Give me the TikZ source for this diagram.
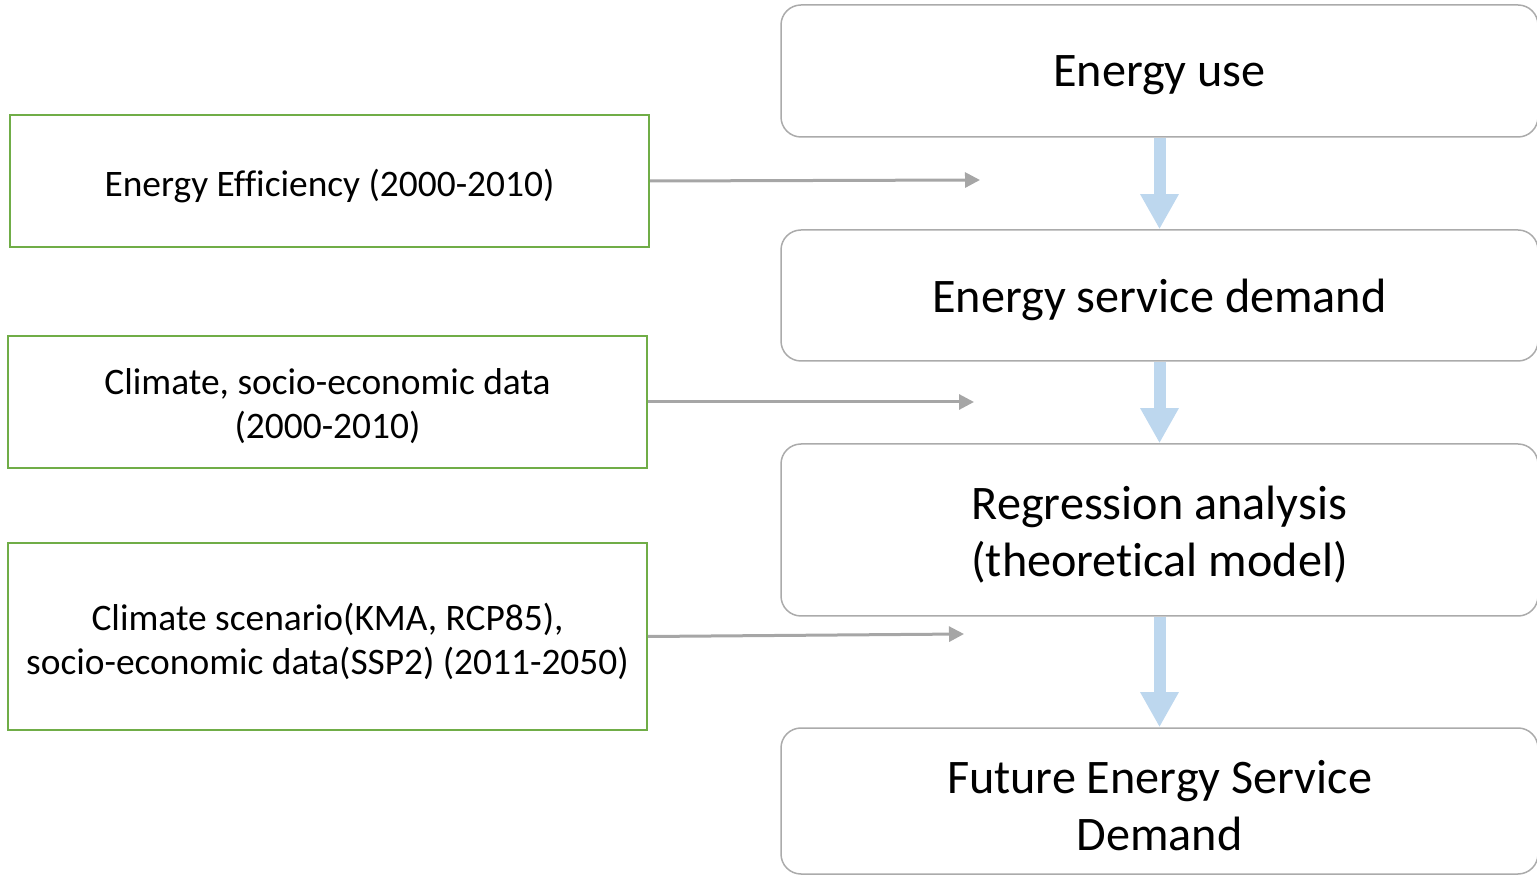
\documentclass[tikz,border=0pt]{standalone}
\usepackage{fontspec}
\setmainfont{Carlito}[Ligatures=NoCommon]
\usetikzlibrary{arrows.meta}
\definecolor{stagegray}{HTML}{ABABAB}
\definecolor{feedgray}{HTML}{A6A6A6}
\definecolor{inputgreen}{HTML}{70AD47}
\definecolor{flowblue}{HTML}{BDD7EE}
\newcommand\lowtext[1]{\raisebox{-2.3pt}[\height][\depth]{#1}}
\begin{document}
\begin{tikzpicture}[x=0.5pt,y=-0.5pt,
  stage/.style={draw=stagegray, line width=0.75pt, rounded corners=10pt, minimum width=378.5pt, align=center, font=\fontsize{24.1}{28.5}\selectfont, inner sep=0pt},
  input/.style={draw=inputgreen, line width=1pt, minimum width=319.5pt, align=center, font=\fontsize{18.7}{22}\selectfont, inner sep=0pt},
  feed/.style={draw=feedgray, line width=1.5pt, -{Triangle[width=7.5pt,length=7.5pt]}},
  flow/.style={draw=flowblue, line width=6pt, -{Triangle[width=18pt,length=17.5pt]}}]
\useasboundingbox (0,0) rectangle (1537,876);
\node[stage, minimum height=66pt] (b1) at (1159.5,71) {\lowtext{Energy use}};
\node[stage, minimum height=65.5pt] (b2) at (1159.5,295.5) {\lowtext{Energy service demand}};
\node[stage, minimum height=86pt] (b3) at (1159.5,530) {\lowtext{Regression analysis}\\\lowtext{(theoretical model)}};
\node[stage, minimum height=73pt] (b4) at (1159.5,801) {\lowtext{Future Energy Service}\\\lowtext{Demand}};
\node[input, minimum height=66pt] (g1) at (329.5,181) {\lowtext{Energy Efficiency (2000-2010)}};
\node[input, minimum height=66pt] (g2) at (327.5,402) {\lowtext{Climate, socio-economic data}\\\lowtext{(2000-2010)}};
\node[input, minimum height=93.5pt] (g3) at (327.5,636.5) {\lowtext{Climate scenario(KMA, RCP85),}\\\lowtext{socio-economic data(SSP2) (2011-2050)}};
\coordinate (e1) at (980,180);
\coordinate (e2) at (974,402);
\coordinate (e3) at (964,634);
\draw[feed] (g1.east) -- (e1);
\draw[feed] (g2.east) -- (e2);
\draw[feed] (g3.east) -- (e3);
\draw[flow] (b1.south) -- (b2.north);
\draw[flow] (b2.south) -- (b3.north);
\draw[flow] (b3.south) -- (b4.north);
\end{tikzpicture}
\end{document}
